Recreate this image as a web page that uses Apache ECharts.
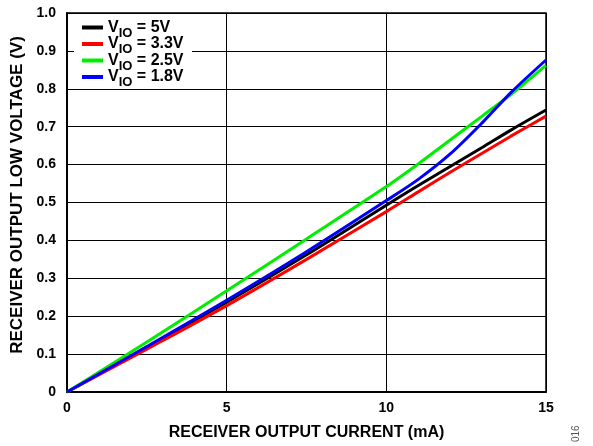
<!DOCTYPE html>
<html>
<head>
<meta charset="utf-8">
<script src="https://cdn.jsdelivr.net/npm/echarts@6/dist/echarts.min.js"></script>
<style>
  html, body { margin: 0; padding: 0; background: #fff; }
  #chart { width: 593px; height: 446px; }
</style>
</head>
<body>
<div id="chart"></div>
<script>
// Receiver output low voltage vs. receiver output current, per VIO supply
const current = [0, 2.5, 5, 7.5, 10, 11, 12, 13, 13.9, 15];
const vio5V   = [0, 0.118, 0.237, 0.362, 0.493, 0.545, 0.595, 0.645, 0.691, 0.744];
const vio3V3  = [0, 0.113, 0.228, 0.350, 0.476, 0.528, 0.580, 0.630, 0.675, 0.728];
const vio2V5  = [0, 0.132, 0.267, 0.404, 0.542, 0.602, 0.665, 0.728, 0.785, 0.862];
const vio1V8  = [0, 0.120, 0.242, 0.370, 0.505, 0.561, 0.628, 0.710, 0.790, 0.876];
const seriesNames = ['5V', '3.3V', '2.5V', '1.8V'];
const seriesColors = ['#000000', '#ff0000', '#00ee00', '#0000ff'];
const xTicks = [0, 5, 10, 15];

const allValues = [vio5V, vio3V3, vio2V5, vio1V8];
const font = 'Arial, "Liberation Sans", sans-serif';

const chart = echarts.init(document.getElementById('chart'), null, { renderer: 'canvas' });

const series = allValues.map((vals, i) => ({
  name: seriesNames[i],
  type: 'line',
  smooth: 0.3,
  showSymbol: false,
  symbol: 'none',
  data: current.map((c, k) => [c, vals[k]]),
  lineStyle: { color: seriesColors[i], width: 3 },
  itemStyle: { color: seriesColors[i] },
  z: 3 + (i === 3 ? 1 : 0)
}));

chart.setOption({
  animation: false,
  backgroundColor: '#fff',
  grid: { left: 67, right: 47, top: 13, bottom: 52, show: true, borderColor: '#000', borderWidth: 1.5 },
  legend: {
    left: 82, top: 15.5,
    orient: 'vertical',
    itemGap: -7.5,
    itemWidth: 21, itemHeight: 4,
    icon: 'rect',
    padding: 0,
    z: 10,
    data: seriesNames,
    formatter: name => '{v|V}{s|IO}{v| = ' + name + '}',
    textStyle: {
      fontFamily: font, fontWeight: 'bold', fontSize: 16, color: '#000',
      rich: {
        v: { fontFamily: font, fontWeight: 'bold', fontSize: 16, lineHeight: 16, color: '#000' },
        s: { fontFamily: font, fontWeight: 'bold', fontSize: 13, lineHeight: 4, color: '#000', padding: [11, 0, 0, 0] }
      }
    }
  },
  xAxis: {
    type: 'value', min: 0, max: 15, interval: 5,
    name: 'RECEIVER OUTPUT CURRENT (mA)',
    nameLocation: 'middle', nameGap: 33,
    nameTextStyle: { fontFamily: font, fontWeight: 'bold', fontSize: 16, color: '#000' },
    axisLine: { lineStyle: { color: '#000', width: 2 } },
    axisTick: { show: false },
    axisLabel: { fontFamily: font, fontWeight: 'bold', fontSize: 14, color: '#000', margin: 9,
      formatter: v => xTicks.includes(v) ? String(v) : '' },
    splitLine: { show: true, lineStyle: { color: '#000', width: 1 } }
  },
  yAxis: {
    type: 'value', min: 0, max: 1, interval: 0.1,
    name: 'RECEIVER OUTPUT LOW VOLTAGE (V)',
    nameLocation: 'middle', nameGap: 40, nameRotate: 90,
    nameTextStyle: { fontFamily: font, fontWeight: 'bold', fontSize: 17, color: '#000', padding: [0, 0, 0, 15] },
    axisLine: { lineStyle: { color: '#000', width: 2 } },
    axisTick: { show: false },
    axisLabel: { fontFamily: font, fontWeight: 'bold', fontSize: 14, color: '#000', margin: 11,
      formatter: v => v === 0 ? '0' : (v === 1 ? '1.0' : v.toFixed(1)) },
    splitLine: { show: true, lineStyle: { color: '#000', width: 1 } }
  },
  graphic: [
    {
      // white panel behind the legend, masking the grid lines
      type: 'rect', z: 5,
      shape: { x: 74, y: 14, width: 118, height: 71 },
      style: { fill: '#fff' }
    },
    {
      type: 'text',
      x: 571, y: 442,
      rotation: Math.PI / 2,
      style: { text: '016', fontFamily: font, fontSize: 10, fill: '#555', textAlign: 'left', textVerticalAlign: 'top' }
    }
  ],
  series: series
});
</script>
</body>
</html>
